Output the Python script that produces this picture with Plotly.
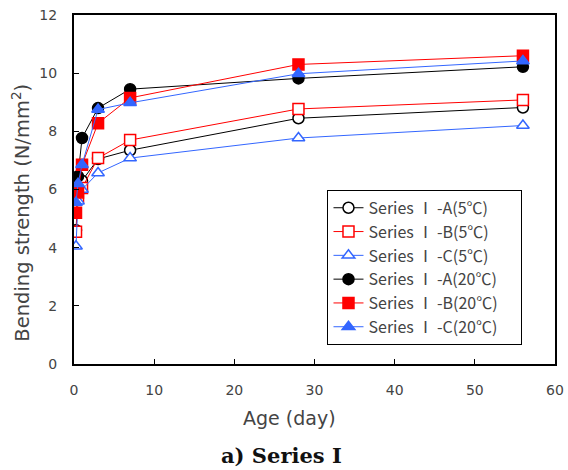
import plotly.graph_objects as go

ages = [0.25, 0.5, 1, 3, 7, 28, 56]

a_5c = [4.6, 5.9, 6.3, 7.05, 7.35, 8.45, 8.82]
b_5c = [4.55, 5.75, 6.05, 7.08, 7.7, 8.77, 9.08]
c_5c = [4.05, 5.6, 6.0, 6.57, 7.08, 7.77, 8.2]
a_20c = [6.1, 6.45, 7.77, 8.8, 9.45, 9.82, 10.22]
b_20c = [5.2, 5.9, 6.85, 8.28, 9.15, 10.3, 10.6]
c_20c = [5.55, 6.2, 6.85, 8.75, 8.98, 9.98, 10.42]

names = ["Series Ⅰ -A(5℃)", "Series Ⅰ -B(5℃)", "Series Ⅰ -C(5℃)",
         "Series Ⅰ -A(20℃)", "Series Ⅰ -B(20℃)", "Series Ⅰ -C(20℃)"]
series = [a_5c, b_5c, c_5c, a_20c, b_20c, c_20c]
colors = ["#000000", "#ff0000", "#3366ff", "#000000", "#ff0000", "#3366ff"]
symbols = ["circle-open", "square-open", "triangle-up-open",
           "circle", "square", "triangle-up"]

fig = go.Figure()
for name, vals, col, sym in zip(names, series, colors, symbols):
    filled = "open" not in sym
    fig.add_trace(go.Scatter(
        x=ages, y=vals, name=name + "\u00a0\u00a0\u00a0\u00a0\u00a0", mode="lines+markers",
        line=dict(color=col, width=1),
        marker=dict(symbol=sym if filled else sym.replace("-open", ""),
                    size=11,
                    color=col if filled else "white",
                    line=dict(color=col, width=1.5)),
    ))

axis_common = dict(showline=True, linecolor="black", linewidth=2, mirror=True,
                   ticks="inside", ticklen=5, tickcolor="black", showgrid=False,
                   zeroline=False, automargin=False,
                   tickfont=dict(size=14, color="#444444"))

fig.update_layout(
    width=568, height=470,
    margin=dict(l=74, r=13, t=15, b=106),
    paper_bgcolor="white", plot_bgcolor="white",
    font=dict(family="DejaVu Sans, sans-serif", color="#444444"),
    xaxis=dict(range=[0, 60], dtick=10, ticklabelstandoff=12, **axis_common),
    yaxis=dict(range=[0, 12], dtick=2, ticklabelstandoff=12, **axis_common),
    legend=dict(x=0.527, y=0.499, xanchor="left", yanchor="top",
                bordercolor="black", borderwidth=1, bgcolor="white",
                font=dict(family="Noto Sans CJK KR, DejaVu Sans, sans-serif",
                          size=16, color="#444444"),
                itemwidth=30, tracegroupgap=0),
    showlegend=True,
)

# axis titles
fig.add_annotation(text="Age (day)", xref="paper", yref="paper",
                   x=0.449, y=-0.155, xanchor="center", yanchor="middle",
                   showarrow=False, font=dict(size=19, color="#444444"))
fig.add_annotation(text="Bending strength (N/mm<sup>2</sup>)", xref="paper", yref="paper",
                   x=-0.112, y=0.434, xanchor="center", yanchor="middle", textangle=-90,
                   showarrow=False, font=dict(size=19.5, color="#444444"))

fig.add_annotation(text="<b>a) Series Ⅰ</b>", xref="paper", yref="paper",
                   x=0.432, y=-0.262, xanchor="center", yanchor="middle",
                   showarrow=False,
                   font=dict(family="DejaVu Serif, Liberation Serif, serif", size=21, color="#111111"))

fig.write_html("out.html", config={"displayModeBar": False},
               post_script="document.body.style.margin='0';document.body.style.overflow='hidden';")
